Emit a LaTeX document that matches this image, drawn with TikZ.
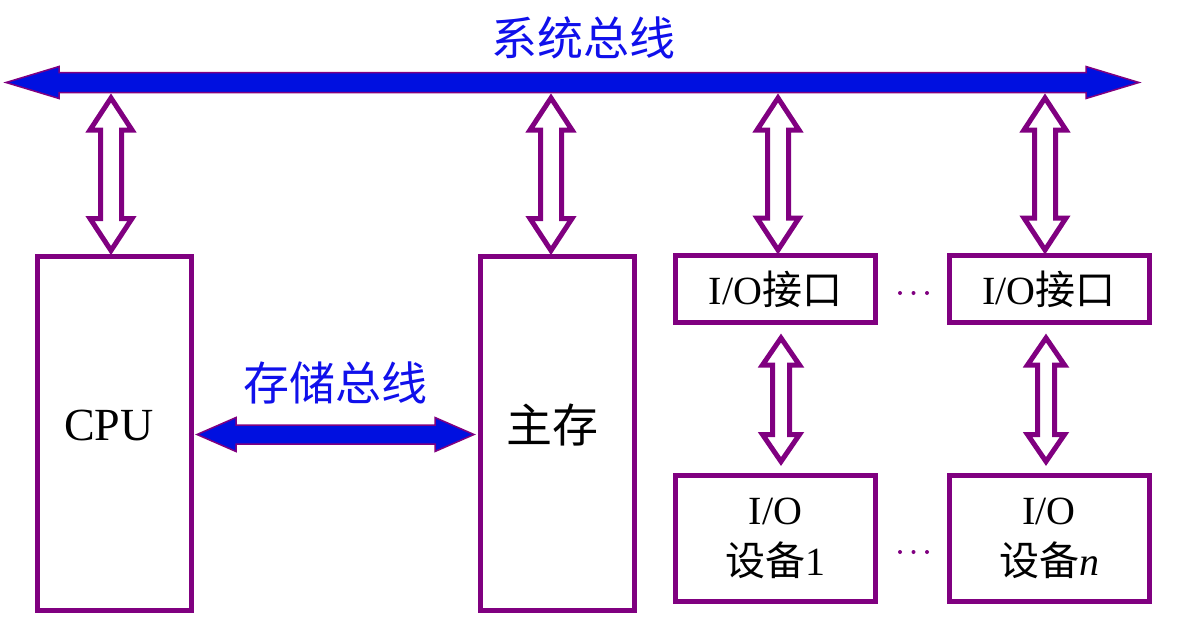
\documentclass[tikz,border=0pt]{standalone}
\usepackage{fontspec}
\setmainfont{Liberation Serif}
\newfontfamily\cjk{Noto Sans CJK SC}
\usetikzlibrary{calc}
\definecolor{pur}{RGB}{128,0,128}
\definecolor{busblue}{RGB}{0,16,224}
\definecolor{txtblue}{RGB}{16,16,235}
\tikzset{
  box/.style={draw=pur,line width=5pt,fill=white,inner sep=0pt,align=center,
    font=\fontsize{40}{51}\selectfont},
  hollow/.style={draw=pur,line width=5pt,fill=white,line join=miter},
  bus/.style={draw=pur,line width=1.5pt,fill=busblue,line join=miter},
  bluetxt/.style={text=txtblue,inner sep=0pt,font=\fontsize{46}{50}\selectfont},
  lab/.style={inner sep=0pt,font=\fontsize{46}{50}\selectfont}
}
% vertical hollow double arrow: top, bottom, head half, shaft half, head length
\newcommand\vdarrow[5]{%
  \draw[hollow] let \p1=#1, \p2=#2 in
    (\x1,\y1) -- (\x1+#3,\y1-#5) -- (\x1+#4,\y1-#5) -- (\x1+#4,\y2+#5) --
    (\x1+#3,\y2+#5) -- (\x1,\y2) -- (\x1-#3,\y2+#5) -- (\x1-#4,\y2+#5) --
    (\x1-#4,\y1-#5) -- (\x1-#3,\y1-#5) -- cycle;}
% horizontal filled double arrow: left, right, head half, shaft half, head length
\newcommand\hbarrow[5]{%
  \draw[bus] let \p1=#1, \p2=#2 in
    (\x1,\y1) -- (\x1+#5,\y1+#3) -- (\x1+#5,\y1+#4) -- (\x2-#5,\y1+#4) --
    (\x2-#5,\y1+#3) -- (\x2,\y1) -- (\x2-#5,\y1-#3) -- (\x2-#5,\y1-#4) --
    (\x1+#5,\y1-#4) -- (\x1+#5,\y1-#3) -- cycle;}
\begin{document}
\begin{tikzpicture}[x=1pt,y=-1pt]
\useasboundingbox (0,0) rectangle (1192,627);

% boxes
\node[box,minimum width=154pt,minimum height=354pt] (cpu) at (114,433) {};
\node[box,minimum width=154pt,minimum height=354pt] (mem) at (557,433) {};
\node[box,minimum width=200pt,minimum height=67pt] (io1) at (775.5,289) {I/O{\cjk 接口}};
\node[box,minimum width=200pt,minimum height=67pt] (ion) at (1049,289) {I/O{\cjk 接口}};
\node[box,minimum width=200pt,minimum height=126pt] (dev1) at (775.5,538) {I/O\\{\cjk 设备}1};
\node[box,minimum width=200pt,minimum height=126pt] (devn) at (1049,538) {I/O\\{\cjk 设备}\textit{n}};

\node[lab] (cpul) at (109,425) {CPU};
\node[lab] (meml) at (552,425) {\cjk 主存};

% system bus
\coordinate (busL) at (6,82.5);
\coordinate (busR) at (1139,82.5);
\hbarrow{(busL)}{(busR)}{16pt}{10pt}{53pt}
\node[bluetxt] (sysbus) at (583,38) {\cjk 系统总线};

% memory bus
\coordinate (mbL) at ($(cpu.east)+(3.5,1.5)$);
\coordinate (mbR) at ($(mem.west)+(-3.5,1.5)$);
\hbarrow{(mbL)}{(mbR)}{17pt}{9.5pt}{39pt}
\node[bluetxt] (membus) at (335,383) {\cjk 存储总线};

% bus taps
\coordinate (t1) at (111,98);
\coordinate (t2) at (551,98);
\coordinate (t3) at (778,98);
\coordinate (t4) at (1045,98);
\vdarrow{(t1)}{($(t1|-cpu.north)+(0,-3)$)}{21pt}{10.5pt}{32pt}
\vdarrow{(t2)}{($(t2|-mem.north)+(0,-3)$)}{21pt}{10.5pt}{32pt}
\vdarrow{(t3)}{($(t3|-io1.north)+(0,-3)$)}{21pt}{10.5pt}{32pt}
\vdarrow{(t4)}{($(t4|-ion.north)+(0,-3)$)}{21pt}{10.5pt}{32pt}

% interface to device
\coordinate (u1) at ($(io1.south)+(5.5,13)$);
\coordinate (u2) at ($(ion.south)+(-3,13)$);
\vdarrow{(u1)}{($(u1|-dev1.north)+(0,-11)$)}{18.5pt}{8.5pt}{27pt}
\vdarrow{(u2)}{($(u2|-devn.north)+(0,-11)$)}{18.5pt}{8.5pt}{27pt}

% ellipses
\foreach \x in {900,913.5,927} {
  \fill[pur] (\x,293) circle (2pt);
  \fill[pur] (\x,552) circle (2pt);
}
\end{tikzpicture}
\end{document}
